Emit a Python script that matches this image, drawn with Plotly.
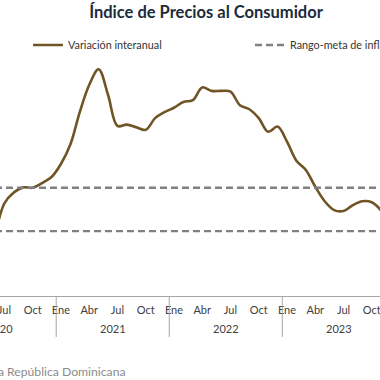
import plotly.graph_objects as go

# ---------------- data ----------------
meses = [
    "2020-06", "2020-07", "2020-08", "2020-09", "2020-10", "2020-11", "2020-12",
    "2021-01", "2021-02", "2021-03", "2021-04", "2021-05", "2021-06",
    "2021-07", "2021-08", "2021-09", "2021-10", "2021-11", "2021-12",
    "2022-01", "2022-02", "2022-03", "2022-04", "2022-05", "2022-06",
    "2022-07", "2022-08", "2022-09", "2022-10", "2022-11", "2022-12",
    "2023-01", "2023-02", "2023-03", "2023-04", "2023-05", "2023-06",
    "2023-07", "2023-08", "2023-09", "2023-10", "2023-11",
]
variacion_interanual = [
    2.75, 4.28, 4.78, 5.02, 5.00, 5.22, 5.50,
    6.10, 7.00, 8.50, 9.75, 10.48, 9.30,
    7.86, 7.92, 7.80, 7.68, 8.22, 8.50,
    8.70, 8.97, 9.05, 9.64, 9.48, 9.48,
    9.45, 8.82, 8.63, 8.22, 7.59, 7.83,
    7.13, 6.25, 5.82, 5.05, 4.38, 3.97,
    3.93, 4.20, 4.38, 4.33, 3.95,
]
meta_superior = 5.0
meta_inferior = 3.0

nombres_mes = {"01": "Ene", "04": "Abr", "07": "Jul", "10": "Oct"}
anios = ["2020", "2021", "2022", "2023"]

titulo = "Índice de Precios al Consumidor"
fuente = "Fuente: Banco Central de la República Dominicana"

# ---------------- derived ----------------
x = list(range(len(meses)))
tickvals = [i for i, m in enumerate(meses) if m[5:] in nombres_mes]
ticktext = [nombres_mes[meses[i][5:]] for i in tickvals]

primer_anio = int(meses[0][:4])
offset0 = int(meses[0][5:]) - 1
centros = {a: (int(a) - primer_anio) * 12 - offset0 + 5.5 for a in anios}
divisores = [(int(a) - primer_anio) * 12 - offset0 - 0.5 for a in anios[1:]]

GOLD = "#6f5425"
GRAY_DASH = "#808080"
AXIS_GRAY = "#a6a6a6"
FONT = "Lato"

px_per_month = 9.42
x_start = 1 - 4.4 / px_per_month
x_end = x_start + 380 / px_per_month

def to_paper_x(v):
    return (v - x_start) / (x_end - x_start)

fig = go.Figure()
fig.add_trace(go.Scatter(
    x=x, y=variacion_interanual, mode="lines",
    name="Variación interanual",
    line=dict(color=GOLD, width=2.6, shape="spline", smoothing=1.0),
    legend="legend",
))
fig.add_trace(go.Scatter(
    x=[x[0], x[-1], None, x[0], x[-1]],
    y=[meta_superior, meta_superior, None, meta_inferior, meta_inferior],
    mode="lines", name="Rango-meta de inflación",
    line=dict(color=GRAY_DASH, width=2.4, dash="7px,4px"),
    legend="legend2",
))

H_PLOT = 238
def py(px):
    return (296 - px) / H_PLOT

shapes = [
    dict(type="line", xref="x", yref="paper", x0=d, x1=d, y0=0, y1=py(337),
         line=dict(color=AXIS_GRAY, width=1))
    for d in divisores
]
annotations = [
    dict(x=to_paper_x(centros[a]), y=py(328), xref="paper", yref="paper", text=a,
         showarrow=False, xanchor="center", yanchor="middle",
         font=dict(family=FONT, size=11, color="#404040"))
    for a in anios
]
annotations.append(dict(
    x=128 / 380, y=py(371), xref="paper", yref="paper", text=fuente,
    showarrow=False, xanchor="right", yanchor="middle",
    font=dict(family=FONT, size=12.2, color="#8c8c8c")))

fig.update_layout(
    width=380, height=380,
    margin=dict(l=0, r=0, t=58, b=84, pad=0, autoexpand=False),
    paper_bgcolor="white", plot_bgcolor="white",
    title=dict(text="<b>" + titulo + "</b>", x=206 / 380, xanchor="center",
               xref="paper", y=1 - 12 / 380, yanchor="middle", yref="container",
               font=dict(family=FONT, size=16.5, color="#1c2b3c")),
    showlegend=True,
    legend=dict(x=28 / 380, y=py(45), xanchor="left", yanchor="middle",
                orientation="h", bgcolor="rgba(0,0,0,0)",
                font=dict(family=FONT, size=10.8, color="#333333")),
    legend2=dict(x=250 / 380, y=py(45), xanchor="left", yanchor="middle",
                 orientation="h", bgcolor="rgba(0,0,0,0)",
                 font=dict(family=FONT, size=10.8, color="#333333")),
    xaxis=dict(range=[x_start, x_end],
               tickvals=tickvals, ticktext=ticktext,
               showline=True, linecolor=AXIS_GRAY, linewidth=1,
               showgrid=False, zeroline=False,
               ticks="outside", ticklen=4, tickcolor="rgba(0,0,0,0)",
               ticklabeloverflow="allow",
               tickfont=dict(family=FONT, size=11, color="#404040")),
    yaxis=dict(range=[0, 11], showgrid=False, zeroline=False,
               showticklabels=False, showline=False),
    shapes=shapes, annotations=annotations,
)

fig.write_html(
    "out.html",
    config={"displayModeBar": False},
    post_script="document.body.style.margin='0';document.body.style.padding='0';",
)
